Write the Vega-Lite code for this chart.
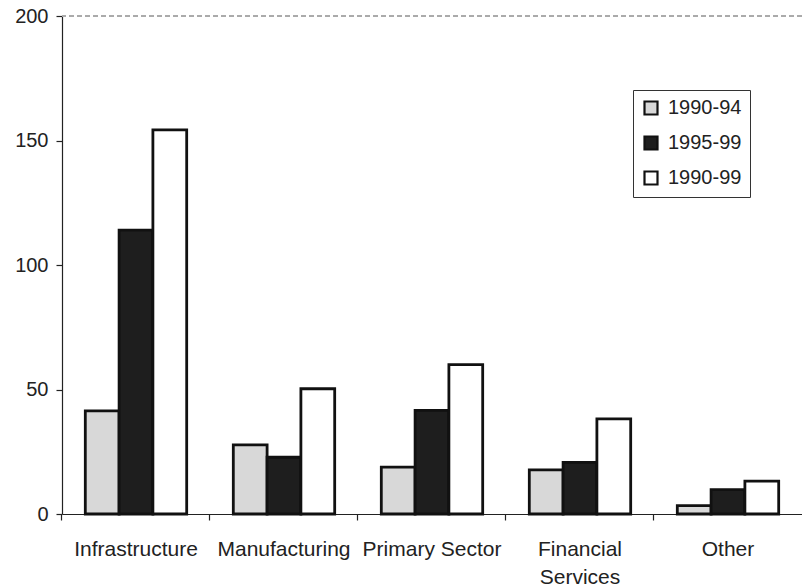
{
  "$schema": "https://vega.github.io/schema/vega-lite/v6.json",
  "width": 740,
  "height": 498,
  "autosize": {"type": "none"},
  "padding": {"left": 62, "top": 16, "right": 0, "bottom": 74},
  "background": "white",
  "config": {
    "view": {"stroke": null},
    "font": "Liberation Sans",
    "axis": {"grid": false, "domainColor": "#222", "tickColor": "#222", "labelColor": "#222", "domainWidth": 1.2, "tickWidth": 1.2}
  },
  "data": {
    "values": [
      {"sector": "Infrastructure", "period": "1990-94", "value": 41.4},
      {"sector": "Infrastructure", "period": "1995-99", "value": 114},
      {"sector": "Infrastructure", "period": "1990-99", "value": 154.3},
      {"sector": "Manufacturing", "period": "1990-94", "value": 27.8},
      {"sector": "Manufacturing", "period": "1995-99", "value": 22.8},
      {"sector": "Manufacturing", "period": "1990-99", "value": 50.3},
      {"sector": "Primary Sector", "period": "1990-94", "value": 18.8},
      {"sector": "Primary Sector", "period": "1995-99", "value": 41.6},
      {"sector": "Primary Sector", "period": "1990-99", "value": 60},
      {"sector": "Financial Services", "period": "1990-94", "value": 17.7},
      {"sector": "Financial Services", "period": "1995-99", "value": 20.7},
      {"sector": "Financial Services", "period": "1990-99", "value": 38.2},
      {"sector": "Other", "period": "1990-94", "value": 3.4},
      {"sector": "Other", "period": "1995-99", "value": 9.8},
      {"sector": "Other", "period": "1990-99", "value": 13.2}
    ]
  },
  "layer": [
    {
      "mark": {"type": "bar", "stroke": "#111", "strokeWidth": 2.8},
      "encoding": {
        "x": {
          "field": "sector", "type": "nominal",
          "sort": ["Infrastructure", "Manufacturing", "Primary Sector", "Financial Services", "Other"],
          "scale": {"paddingInner": 0.315, "paddingOuter": 0.1575},
          "axis": {
            "title": null, "labelAngle": 0, "tickSize": 6, "labelPadding": 18,
            "bandPosition": -0.23, "labelFontSize": 21,
            "labelLineHeight": 28,
            "labelExpr": "datum.value == 'Financial Services' ? ['Financial', 'Services'] : datum.value"
          }
        },
        "xOffset": {
          "field": "period", "type": "nominal",
          "sort": ["1990-94", "1995-99", "1990-99"],
          "scale": {"paddingInner": 0, "paddingOuter": 0}
        },
        "y": {
          "field": "value", "type": "quantitative",
          "scale": {"domain": [0, 200], "nice": false},
          "axis": {"title": null, "values": [0, 50, 100, 150, 200], "tickSize": 6, "labelPadding": 8, "labelFontSize": 20}
        },
        "color": {
          "field": "period", "type": "nominal",
          "sort": ["1990-94", "1995-99", "1990-99"],
          "scale": {"domain": ["1990-94", "1995-99", "1990-99"], "range": ["#d8d8d8", "#1e1e1e", "#ffffff"]},
          "legend": {
            "title": null, "orient": "none", "legendX": 571, "legendY": 74,
            "strokeColor": "#333", "fillColor": "white", "padding": 8,
            "symbolType": "square", "symbolSize": 169, "symbolStrokeColor": "#111", "symbolStrokeWidth": 2.2,
            "labelFontSize": 20, "labelColor": "#222", "rowPadding": 13, "labelOffset": 7
          }
        }
      }
    },
    {
      "mark": {"type": "rule", "strokeDash": [5, 3], "color": "#aaa", "strokeWidth": 1},
      "encoding": {"y": {"datum": 200}}
    }
  ]
}
